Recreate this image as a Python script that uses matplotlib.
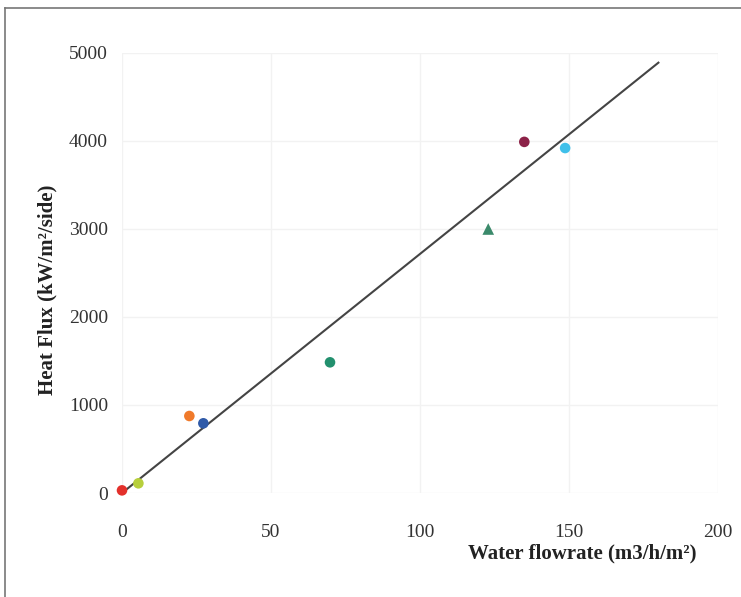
import matplotlib.pyplot as plt
from matplotlib.lines import Line2D

# measured points (Water flowrate m3/h/m2, Heat flux kW/m2/side)
flow = [0, 5.5, 22.6, 27.3, 69.8, 122.9, 135.0, 148.7]
flux = [30, 110, 875, 792, 1485, 3000, 3990, 3920]
colors = ["#e3302b", "#b7cf3c", "#f07a2b", "#2f5aa8", "#22906e",
          "#3b8a6b", "#8c2248", "#3fc0ea"]
markers = ["o", "o", "o", "o", "o", "^", "o", "o"]

# trend line end points
fit_x = [0, 180]
fit_y = [0, 4890]

x_ticks = [0, 50, 100, 150, 200]
y_ticks = [0, 1000, 2000, 3000, 4000, 5000]


def main():
    plt.rcParams["font.family"] = ["Liberation Serif", "DejaVu Serif"]

    fig = plt.figure(figsize=(7.41, 5.97), dpi=100)
    ax = fig.add_axes([122 / 741, 1 - 493 / 597, 596 / 741, 440 / 597])

    ax.plot(fit_x, fit_y, color="#444444", lw=1.5, zorder=2)
    for x, y, c, m in zip(flow, flux, colors, markers):
        ax.scatter(x, y, s=58 if m == "o" else 70, color=c, marker=m,
                   edgecolors="none", zorder=3, clip_on=False)

    ax.set_xlim(0, 200)
    ax.set_ylim(0, 5000)
    ax.set_xticks(x_ticks)
    ax.set_yticks(y_ticks)
    ax.grid(True, color="#f2f2f2", lw=1.0, zorder=0)
    ax.set_axisbelow(True)
    for s in ax.spines.values():
        s.set_visible(False)
    ax.tick_params(axis="both", length=0, labelsize=14, colors="#333333")
    ax.tick_params(axis="x", pad=22)
    ax.tick_params(axis="y", pad=10)

    ax.set_xlabel("Water flowrate (m3/h/m²)", fontsize=15, fontweight="bold",
                  color="#222222")
    ax.xaxis.set_label_coords(0.773, -0.114)
    ax.set_ylabel("Heat Flux (kW/m²/side)", fontsize=15, fontweight="bold",
                  color="#222222")
    ax.yaxis.set_label_coords(-0.108, 0.461)

    # frame of the cropped figure: only top and left edges show
    fig.add_artist(Line2D([5 / 741, 1.0], [1 - 8 / 597, 1 - 8 / 597],
                          transform=fig.transFigure, color="#777777", lw=1.2))
    fig.add_artist(Line2D([5 / 741, 5 / 741], [0.0, 1 - 8 / 597],
                          transform=fig.transFigure, color="#777777", lw=1.2))

    fig.savefig("out.png", dpi=100)
    plt.close(fig)


if __name__ == "__main__":
    main()
